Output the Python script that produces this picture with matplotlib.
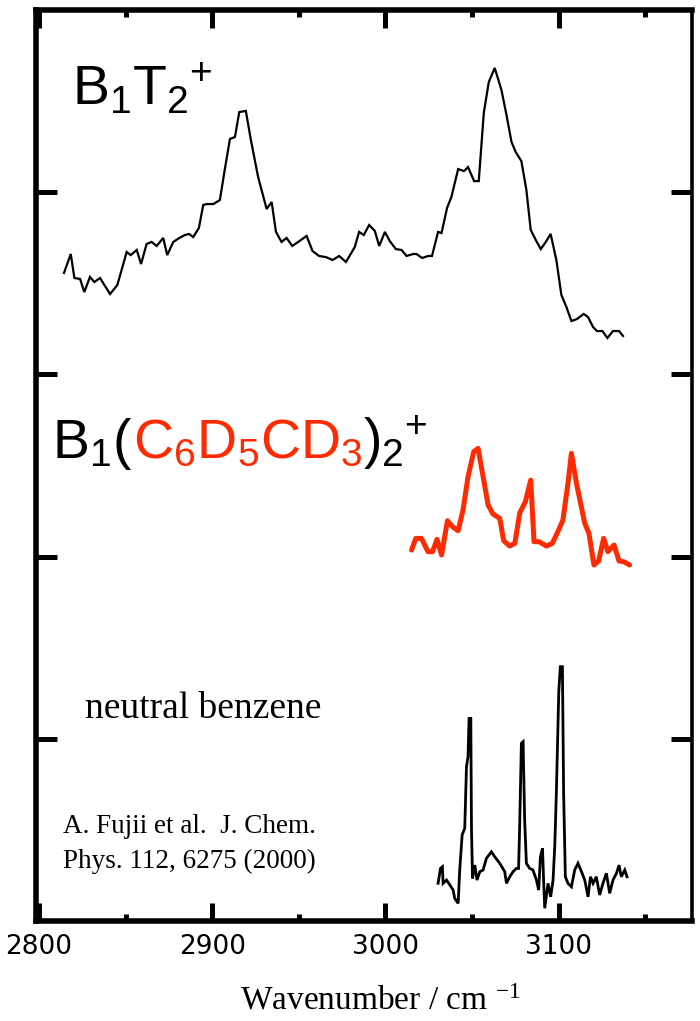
import matplotlib
matplotlib.use("Agg")
import matplotlib.pyplot as plt
from matplotlib import transforms
from matplotlib.ticker import FixedLocator

# ---------------- data ----------------
b1t2_wn = [2814.4, 2818.3, 2820.4, 2823.7, 2826.1, 2829.4, 2831.9, 2835.2, 2841.0, 2845.2,
           2850.6, 2852.9, 2856.4, 2858.9, 2862.1, 2865.0, 2867.9, 2871.7, 2874.0, 2877.5,
           2881.0, 2884.2, 2886.6, 2889.0, 2892.3, 2894.8, 2896.8, 2900.6, 2904.4, 2906.9,
           2910.2, 2913.1, 2915.6, 2919.4, 2922.3, 2926.5, 2931.4, 2934.3, 2936.8, 2940.0,
           2942.9, 2946.2, 2949.6, 2954.5, 2957.9, 2961.7, 2965.6, 2969.5, 2973.3, 2977.2,
           2982.3, 2984.8, 2987.5, 2990.6, 2993.9, 2996.4, 2999.7, 3002.5, 3006.0, 3009.3,
           3012.2, 3016.0, 3017.9, 3021.2, 3024.6, 3026.9, 3030.4, 3032.4, 3035.6, 3038.1,
           3042.0, 3045.4, 3047.7, 3051.2, 3053.9, 3056.8, 3059.7, 3063.1, 3067.0, 3069.9,
           3072.8, 3075.2, 3078.5, 3081.4, 3083.9, 3086.8, 3089.7, 3092.6, 3095.4, 3098.7,
           3101.6, 3104.5, 3107.4, 3110.6, 3114.5, 3117.0, 3119.9, 3122.2, 3125.3, 3128.2,
           3131.4, 3134.9, 3137.2]
b1t2_int = [3.557, 3.661, 3.529, 3.524, 3.452, 3.535, 3.507, 3.529, 3.441, 3.491,
            3.672, 3.655, 3.683, 3.606, 3.716, 3.727, 3.705, 3.749, 3.655, 3.727,
            3.749, 3.765, 3.771, 3.754, 3.804, 3.930, 3.935, 3.935, 3.957, 4.105,
            4.292, 4.303, 4.440, 4.446, 4.287, 4.083, 3.908, 3.946, 3.782, 3.727,
            3.749, 3.705, 3.727, 3.760, 3.677, 3.650, 3.644, 3.628, 3.650, 3.617,
            3.699, 3.782, 3.765, 3.820, 3.787, 3.705, 3.782, 3.732, 3.688, 3.683,
            3.650, 3.661, 3.661, 3.639, 3.650, 3.650, 3.782, 3.776, 3.914, 3.974,
            4.127, 4.116, 4.138, 4.061, 4.061, 4.435, 4.605, 4.682, 4.561, 4.424,
            4.276, 4.221, 4.171, 4.012, 3.793, 3.738, 3.688, 3.727, 3.771, 3.628,
            3.436, 3.370, 3.293, 3.304, 3.332, 3.315, 3.260, 3.238, 3.238, 3.200,
            3.238, 3.238, 3.211]

d_wn = [3015.1, 3017.5, 3020.8, 3024.6, 3027.2, 3029.8, 3032.4, 3035.8, 3039.1, 3042.0,
        3044.8, 3047.7, 3051.0, 3053.5, 3056.4, 3059.3, 3062.1, 3066.0, 3068.3, 3071.8,
        3074.7, 3077.6, 3080.8, 3083.9, 3085.8, 3088.7, 3093.0, 3096.4, 3100.2, 3102.5,
        3105.4, 3107.4, 3110.3, 3115.1, 3117.5, 3120.4, 3123.1, 3126.0, 3128.5, 3132.0,
        3134.9, 3137.6, 3141.0]
d_int = [2.036, 2.100, 2.100, 2.027, 2.027, 2.095, 2.009, 2.197, 2.161, 2.142,
         2.256, 2.439, 2.576, 2.594, 2.439, 2.283, 2.234, 2.210, 2.087, 2.058,
         2.073, 2.241, 2.301, 2.420, 2.082, 2.082, 2.058, 2.073, 2.150, 2.201,
         2.402, 2.567, 2.402, 2.183, 2.128, 1.954, 1.976, 2.100, 2.027, 2.064,
         1.976, 1.972, 1.954]

nb_wn = [3030.4, 3031.8, 3032.9, 3033.3, 3035.3, 3037.2, 3039.1, 3040.0, 3042.0, 3042.9,
         3044.3, 3045.8, 3046.8, 3047.7, 3048.3, 3049.3, 3049.7, 3050.3, 3051.6, 3052.9,
         3054.5, 3056.4, 3058.3, 3061.2, 3063.1, 3066.0, 3068.9, 3069.9, 3071.8, 3073.7,
         3075.6, 3076.9, 3077.6, 3078.5, 3079.5, 3080.4, 3081.4, 3083.3, 3085.2, 3087.2,
         3088.5, 3089.5, 3090.7, 3091.4, 3092.0, 3093.9, 3095.4, 3096.8, 3097.8, 3098.7,
         3100.1, 3101.0, 3102.2, 3102.9, 3103.9, 3105.4, 3107.4, 3109.3, 3111.2, 3113.2,
         3115.1, 3117.0, 3118.4, 3119.9, 3121.8, 3123.7, 3125.6, 3127.6, 3129.5, 3131.4,
         3133.4, 3134.9, 3136.2, 3138.2, 3139.5]
nb_int = [0.207, 0.289, 0.298, 0.207, 0.225, 0.198, 0.170, 0.125, 0.097, 0.280,
          0.472, 0.509, 0.847, 0.902, 1.112, 1.112, 0.499, 0.234, 0.307, 0.225,
          0.271, 0.280, 0.344, 0.380, 0.353, 0.317, 0.271, 0.207, 0.243, 0.271,
          0.289, 0.289, 0.554, 0.975, 0.984, 0.554, 0.317, 0.289, 0.280, 0.225,
          0.170, 0.353, 0.399, 0.207, 0.070, 0.207, 0.133, 0.225, 0.417, 0.701,
          1.259, 1.396, 1.396, 0.701, 0.243, 0.207, 0.188, 0.280, 0.317, 0.271,
          0.225, 0.133, 0.243, 0.207, 0.243, 0.143, 0.207, 0.262, 0.152, 0.225,
          0.262, 0.307, 0.243, 0.280, 0.243]

x_major = [2800, 2900, 3000, 3100]
x_minor = [2850, 2950, 3050, 3150]
y_major = [1, 2, 3, 4]

RED = "#ff2a00"
SANS = ["Liberation Sans", "DejaVu Sans"]
SERIF = ["Liberation Serif", "DejaVu Serif"]

# ---------------- figure ----------------
fig = plt.figure(figsize=(7.0, 10.21), dpi=100)
ax = fig.add_axes([0.0521, 0.0979, 0.9364, 0.8923])

ax.plot(b1t2_wn, b1t2_int, color="black", lw=1.6, solid_joinstyle="miter")
ax.plot(d_wn, d_int, color=RED, lw=3.6, solid_joinstyle="round", solid_capstyle="round")
ax.plot(nb_wn, nb_int, color="black", lw=2.0, solid_joinstyle="miter")

ax.set_xlim(2798.5, 3177)
ax.set_ylim(0, 5)
ax.xaxis.set_major_locator(FixedLocator(x_major))
ax.xaxis.set_minor_locator(FixedLocator(x_minor))
ax.yaxis.set_major_locator(FixedLocator(y_major))
ax.yaxis.set_minor_locator(FixedLocator([]))

ax.tick_params(axis="x", which="major", direction="in", length=13, width=3.6,
               top=True, labelsize=19, pad=9)
ax.tick_params(axis="x", which="minor", direction="in", length=5, width=3.6, top=True)
ax.tick_params(axis="y", which="major", direction="in", length=15, width=3.6,
               right=True, labelleft=False)
for lab in ax.get_xticklabels():
    lab.set_fontfamily("DejaVu Sans")

for side in ("left", "bottom", "top"):
    ax.spines[side].set_linewidth(4.0)
ax.spines["right"].set_linewidth(2.6)

ax.set_xlabel(r"Wavenumber / cm $\mathregular{^{-1}}$", fontfamily=SERIF, fontsize=24)
ax.xaxis.set_label_coords(0.524, -0.071)


def rainbow(x, y, pieces, **kw):
    """Draw coloured pieces one after another on a shared baseline."""
    renderer = fig.canvas.get_renderer()
    trans = ax.transAxes
    for s, c in pieces:
        t = ax.text(x, y, s, color=c, transform=trans, ha="left", va="baseline", **kw)
        t.draw(renderer)
        ex = t.get_window_extent(renderer)
        trans = transforms.offset_copy(trans, fig=fig, x=ex.width, units="dots")


rainbow(0.0542, 0.8957, [(r"$\mathregular{B_1T_2\!{}^+}$", "black")],
        fontfamily=SANS, fontsize=40)
rainbow(0.0236, 0.508, [(r"$\mathregular{B_1(}$", "black"),
                        (r"$\mathregular{C_6D_5CD_3}$", RED),
                        (r"$\mathregular{)_2\!{}^+}$", "black")],
        fontfamily=SANS, fontsize=40)

ax.text(0.074, 0.2228, "neutral benzene", transform=ax.transAxes, ha="left",
        va="baseline", fontfamily=SERIF, fontsize=27)
ax.text(0.0404, 0.0966, "A. Fujii et al.  J. Chem.", transform=ax.transAxes, ha="left",
        va="baseline", fontfamily=SERIF, fontsize=19.5)
ax.text(0.0404, 0.0582, "Phys. 112, 6275 (2000)", transform=ax.transAxes, ha="left",
        va="baseline", fontfamily=SERIF, fontsize=19.5)

fig.savefig("out.png", dpi=100)
